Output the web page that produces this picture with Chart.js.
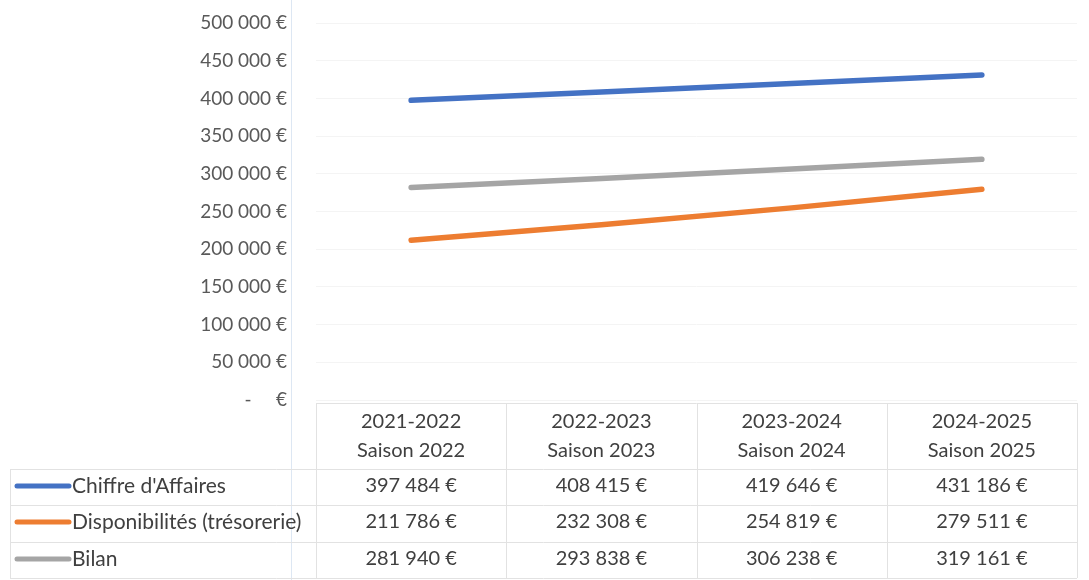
<!DOCTYPE html>
<html>
<head>
<meta charset="utf-8">
<script src="https://cdn.jsdelivr.net/npm/chart.js@4"></script>
<style>
  html, body { margin: 0; padding: 0; background: #fff; }
  #wrap { width: 1089px; height: 580px; position: relative; }
</style>
</head>
<body>
<div id="wrap"><canvas id="chart" width="1089" height="580"></canvas></div>
<script>
const saisons = ['2021-2022', '2022-2023', '2023-2024', '2024-2025'];
const saisonLabels = ['Saison 2022', 'Saison 2023', 'Saison 2024', 'Saison 2025'];
const chiffreAffaires = [397484, 408415, 419646, 431186];
const disponibilites = [211786, 232308, 254819, 279511];
const bilan = [281940, 293838, 306238, 319161];
const yTicks = [0, 50000, 100000, 150000, 200000, 250000, 300000, 350000, 400000, 450000, 500000];

const FONT = "Lato, 'Open Sans', sans-serif";
const TEXT = '#404040';

const series = [
    { label: "Chiffre d'Affaires", data: chiffreAffaires, color: '#4472C4' },
    { label: 'Disponibilités (trésorerie)', data: disponibilites, color: '#ED7D31' },
    { label: 'Bilan', data: bilan, color: '#A5A5A5' }
];

// format "397 484 €"
function euro(v) {
    if (v === 0) return '-     €';
    return v.toString().replace(/\B(?=(\d{3})+(?!\d))/g, ' ') + ' €';
}

// Tableau de données sous le graphique (façon Excel)
const dataTablePlugin = {
    id: 'dataTable',
    afterDraw(chart) {
        const ctx = chart.ctx;
        const x = chart.scales.x;
        const area = chart.chartArea;
        const colW = (area.right - area.left) / saisons.length;
        const top = area.bottom + 3;
        const rowTop = [469, 505, 542];
        const bottom = 578;

        ctx.save();
        // trait vertical pâle (bord de cellule du scan)
        ctx.strokeStyle = '#dde7f3';
        ctx.lineWidth = 1;
        ctx.beginPath();
        ctx.moveTo(291.5, 0);
        ctx.lineTo(291.5, 580);
        ctx.stroke();

        ctx.strokeStyle = '#e2e2e2';

        // verticales
        for (let i = 0; i <= saisons.length; i++) {
            const px = Math.round(area.left + i * colW) + 0.5;
            ctx.beginPath();
            ctx.moveTo(px, top);
            ctx.lineTo(px, bottom);
            ctx.stroke();
        }
        ctx.beginPath();
        ctx.moveTo(10.5, rowTop[0]);
        ctx.lineTo(10.5, bottom);
        ctx.stroke();

        // horizontales
        ctx.beginPath();
        ctx.moveTo(area.left, top + 0.5);
        ctx.lineTo(area.right, top + 0.5);
        ctx.stroke();
        rowTop.concat([bottom]).forEach(y => {
            ctx.beginPath();
            ctx.moveTo(10, y + 0.5);
            ctx.lineTo(area.right, y + 0.5);
            ctx.stroke();
        });

        // en-têtes
        ctx.fillStyle = TEXT;
        ctx.font = '20px ' + FONT;
        ctx.textAlign = 'center';
        ctx.textBaseline = 'middle';
        saisons.forEach((s, i) => {
            const cx = x.getPixelForValue(i);
            ctx.fillText(s, cx, 422);
            ctx.fillText(saisonLabels[i], cx, 451);
        });

        // lignes de valeurs + légende
        series.forEach((s, r) => {
            const cy = rowTop[r] + 17;
            ctx.strokeStyle = s.color;
            ctx.lineWidth = 5;
            ctx.lineCap = 'round';
            ctx.beginPath();
            ctx.moveTo(17, cy);
            ctx.lineTo(69, cy);
            ctx.stroke();

            ctx.fillStyle = TEXT;
            ctx.textAlign = 'left';
            ctx.font = '21px ' + FONT;
            ctx.fillText(s.label, 72, cy);

            ctx.font = '20px ' + FONT;
            ctx.textAlign = 'center';
            s.data.forEach((v, i) => {
                ctx.fillText(euro(v), x.getPixelForValue(i), cy);
            });
        });
        ctx.restore();
    }
};

new Chart(document.getElementById('chart'), {
    type: 'line',
    data: {
        labels: saisons,
        datasets: series.map(s => ({
            label: s.label,
            data: s.data,
            borderColor: s.color,
            backgroundColor: s.color,
            borderWidth: 5.5,
            borderCapStyle: 'round',
            pointRadius: 0,
            tension: 0
        }))
    },
    options: {
        responsive: false,
        animation: false,
        layout: { padding: { top: 23, right: 12, bottom: 180, left: 0 } },
        plugins: {
            legend: { display: false },
            tooltip: { enabled: false }
        },
        scales: {
            x: {
                type: 'category',
                offset: true,
                display: false
            },
            y: {
                min: 0,
                max: 500000,
                afterFit: (scale) => {
                    scale.width = 316;
                    // la marge des étiquettes ne doit pas repousser la zone de tracé
                    scale.paddingTop = 0;
                    scale.paddingBottom = 0;
                },
                afterBuildTicks: (scale) => { scale.ticks = yTicks.map(v => ({ value: v })); },
                border: { display: false },
                grid: { color: '#f4f4f4', drawTicks: false },
                ticks: {
                    padding: 29,
                    color: '#595959',
                    font: { family: FONT, size: 19 },
                    callback: (v) => euro(v)
                }
            }
        }
    },
    plugins: [dataTablePlugin]
});
</script>
</body>
</html>
